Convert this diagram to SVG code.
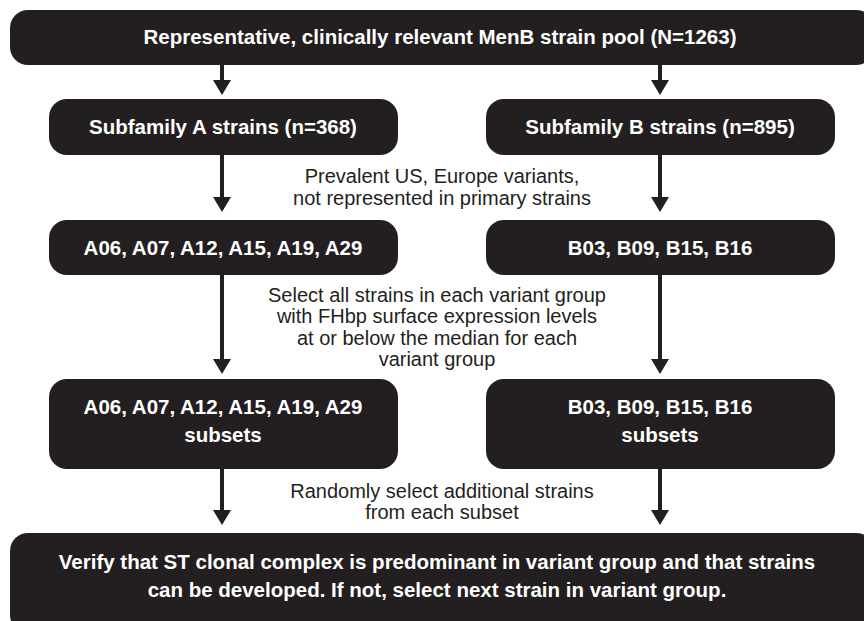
<svg xmlns="http://www.w3.org/2000/svg" width="864" height="621" viewBox="0 0 864 621">
<defs>
<style>
.box{fill:#231f20;}
.nt{font-family:"Liberation Sans",Arial,Helvetica,sans-serif;font-weight:bold;font-size:20.5px;fill:#ffffff;text-anchor:middle;}
.lt{font-family:"Liberation Sans",Arial,Helvetica,sans-serif;font-size:20px;fill:#231f20;text-anchor:middle;}
.ln{stroke:#231f20;stroke-width:4;fill:none;}
.ah{fill:#231f20;}
</style>
</defs>
<rect width="864" height="621" fill="#ffffff"/>
<g id="connectors">
<line class="ln" x1="222" y1="64" x2="222" y2="82"/><polygon class="ah" points="213,80 231,80 222,95"/>
<line class="ln" x1="660" y1="64" x2="660" y2="82"/><polygon class="ah" points="651,80 669,80 660,95"/>
<line class="ln" x1="222" y1="154" x2="222" y2="200"/><polygon class="ah" points="213,197 231,197 222,212"/>
<line class="ln" x1="660" y1="154" x2="660" y2="200"/><polygon class="ah" points="651,197 669,197 660,212"/>
<line class="ln" x1="222" y1="274" x2="222" y2="362"/><polygon class="ah" points="213,359 231,359 222,374"/>
<line class="ln" x1="660" y1="274" x2="660" y2="362"/><polygon class="ah" points="651,359 669,359 660,374"/>
<line class="ln" x1="222" y1="468" x2="222" y2="513"/><polygon class="ah" points="213,510 231,510 222,525"/>
<line class="ln" x1="660" y1="468" x2="660" y2="513"/><polygon class="ah" points="651,510 669,510 660,525"/>
</g>
<g id="labels">
<text class="lt" x="442" y="183">Prevalent US, Europe variants,</text>
<text class="lt" x="442" y="205">not represented in primary strains</text>
<text class="lt" x="437" y="302">Select all strains in each variant group</text>
<text class="lt" x="437" y="323">with FHbp surface expression levels</text>
<text class="lt" x="437" y="345">at or below the median for each</text>
<text class="lt" x="437" y="366">variant group</text>
<text class="lt" x="442" y="498">Randomly select additional strains</text>
<text class="lt" x="442" y="519">from each subset</text>
</g>
<g id="pool">
<rect class="box" x="10" y="10" width="864" height="55" rx="18"/>
<text class="nt" x="440" y="44">Representative, clinically relevant MenB strain pool (N=1263)</text>
</g>
<g id="subA">
<rect class="box" x="49" y="99" width="349" height="56" rx="18"/>
<text class="nt" x="223" y="134">Subfamily A strains (n=368)</text>
</g>
<g id="subB">
<rect class="box" x="486" y="99" width="349" height="56" rx="18"/>
<text class="nt" x="660" y="134">Subfamily B strains (n=895)</text>
</g>
<g id="varA">
<rect class="box" x="49" y="220" width="349" height="55" rx="18"/>
<text class="nt" x="223" y="255">A06, A07, A12, A15, A19, A29</text>
</g>
<g id="varB">
<rect class="box" x="486" y="220" width="349" height="55" rx="18"/>
<text class="nt" x="660" y="255">B03, B09, B15, B16</text>
</g>
<g id="subsetA">
<rect class="box" x="49" y="379" width="349" height="90" rx="18"/>
<text class="nt" x="223" y="414">A06, A07, A12, A15, A19, A29</text>
<text class="nt" x="223" y="442">subsets</text>
</g>
<g id="subsetB">
<rect class="box" x="486" y="379" width="349" height="90" rx="18"/>
<text class="nt" x="660" y="414">B03, B09, B15, B16</text>
<text class="nt" x="660" y="442">subsets</text>
</g>
<g id="verify">
<rect class="box" x="10" y="533" width="864" height="100" rx="18"/>
<text class="nt" x="437" y="569">Verify that ST clonal complex is predominant in variant group and that strains</text>
<text class="nt" x="437" y="597">can be developed. If not, select next strain in variant group.</text>
</g>
</svg>
